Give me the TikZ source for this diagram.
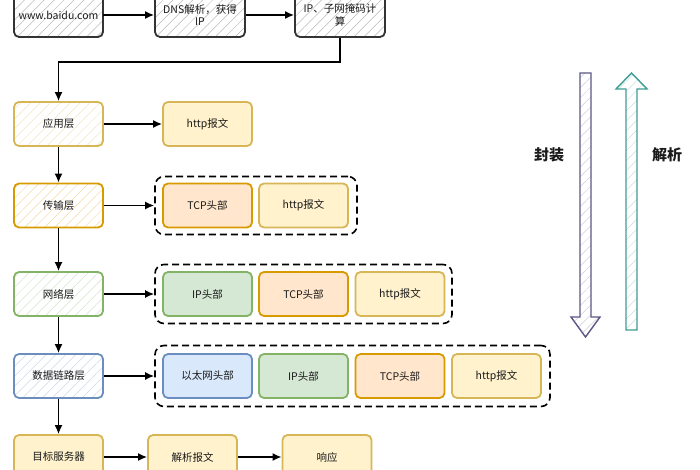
\documentclass[tikz,border=0pt]{standalone}
\usepackage{fontspec}
\setmainfont{Noto Sans CJK SC}
\usetikzlibrary{arrows.meta,patterns.meta}
\definecolor{ybord}{HTML}{D6B656}
\definecolor{yfill}{HTML}{FFF2CC}
\definecolor{obord}{HTML}{D79B00}
\definecolor{ofill}{HTML}{FFE6CC}
\definecolor{gbord}{HTML}{82B366}
\definecolor{gfill}{HTML}{D5E8D4}
\definecolor{bbord}{HTML}{6C8EBF}
\definecolor{bfill}{HTML}{DAE8FC}
\definecolor{pbord}{HTML}{5B5685}
\definecolor{tbord}{HTML}{3E9C92}
\definecolor{kbord}{HTML}{333333}
\definecolor{txt}{HTML}{1A1A1A}
\tikzset{
  box/.style={rounded corners=5pt, line width=1.8pt, minimum width=89pt, minimum height=44pt,
    inner sep=1pt, align=center, font=\fontsize{10.5}{12.5}\selectfont, text=txt},
  hatch/.style={box, draw=#1, pattern={Lines[angle=45,distance=7pt,line width=0.5pt]}, pattern color=#1!35},
  solid/.style 2 args={box, draw=#1, fill=#2},
  grp/.style={draw=black, dashed, dash pattern=on 7pt off 4pt, line width=1.6pt, rounded corners=9pt},
  arr/.style={line width=1.6pt, -{Latex[length=9pt,width=8pt]}},
}
\begin{document}
\begin{tikzpicture}[x=1pt,y=-1pt]
\useasboundingbox (0,0) rectangle (700,470);
% top row
\node[hatch=kbord] (baidu) at (58.5,15) {www.baidu.com};
\node[hatch=kbord, minimum width=90pt] (dns) at (200,15) {DNS解析，获得\\IP};
\node[hatch=kbord, minimum width=90pt] (ipc) at (340,15) {IP、子网掩码计\\算};
\draw[arr] (baidu.east) -- (dns.west);
\draw[arr] (dns.east) -- (ipc.west);
% layers
\node[hatch=ybord] (app) at (58.5,124) {应用层};
\node[hatch=obord] (trans) at (58.5,205.5) {传输层};
\node[hatch=gbord] (net) at (58.5,294) {网络层};
\node[hatch=bbord] (link) at (58.5,376) {数据链路层};
\node[solid={ybord}{yfill}] (server) at (58.5,457) {目标服务器};
\node[solid={ybord}{yfill}] (parse) at (192.5,457) {解析报文};
\node[solid={ybord}{yfill}] (resp) at (327,457) {响应};
\coordinate (bend) at (340,62);
\draw[arr] (ipc.south) -- (bend) -| (app.north);
\draw[arr] (app) -- (trans);
\draw[arr] (trans) -- (net);
\draw[arr] (net) -- (link);
\draw[arr] (link) -- (server);
\draw[arr] (server) -- (parse);
\draw[arr] (parse) -- (resp);
% application
\node[solid={ybord}{yfill}] (h1) at (207.5,124) {http报文};
\draw[arr] (app.east) -- (h1.west);
% transport
\node[grp, minimum width=202pt, minimum height=58pt] (g1) at (256,205.5) {};
\node[solid={obord}{ofill}] (t2) at (207.5,205.5) {TCP头部};
\node[solid={ybord}{yfill}] (h2) at (303.5,205.5) {http报文};
\draw[arr] (trans.east) -- (g1.west);
% network
\node[grp, minimum width=297pt, minimum height=59pt] (g2) at (303.5,294) {};
\node[solid={gbord}{gfill}] (i3) at (207.5,294) {IP头部};
\node[solid={obord}{ofill}] (t3) at (303.5,294) {TCP头部};
\node[solid={ybord}{yfill}] (h3) at (400,294) {http报文};
\draw[arr] (net.east) -- (g2.west);
% link
\node[grp, minimum width=395pt, minimum height=61pt] (g3) at (352.5,376) {};
\node[solid={bbord}{bfill}] (e4) at (207.5,376) {以太网头部};
\node[solid={gbord}{gfill}] (i4) at (303.5,376) {IP头部};
\node[solid={obord}{ofill}] (t4) at (400,376) {TCP头部};
\node[solid={ybord}{yfill}] (h4) at (496.5,376) {http报文};
\draw[arr] (link.east) -- (g3.west);
% big arrows
\draw[pbord, line width=1.4pt, pattern={Lines[angle=45,distance=7pt,line width=0.5pt]}, pattern color=pbord!30]
  (580,73) -- (591,73) -- (591,317) -- (600,317) -- (585.5,337) -- (571,317) -- (580,317) -- cycle;
\draw[tbord, line width=1.4pt, pattern={Lines[angle=45,distance=7pt,line width=0.5pt]}, pattern color=tbord!30]
  (626,330) -- (637,330) -- (637,89) -- (647,89) -- (631.5,73) -- (616,89) -- (626,89) -- cycle;
\node[font=\fontsize{15}{17}\selectfont\bfseries, text=txt] (fz) at (549,155) {封装};
\node[font=\fontsize{15}{17}\selectfont\bfseries, text=txt] (jx) at (667,155) {解析};
\end{tikzpicture}
\end{document}
